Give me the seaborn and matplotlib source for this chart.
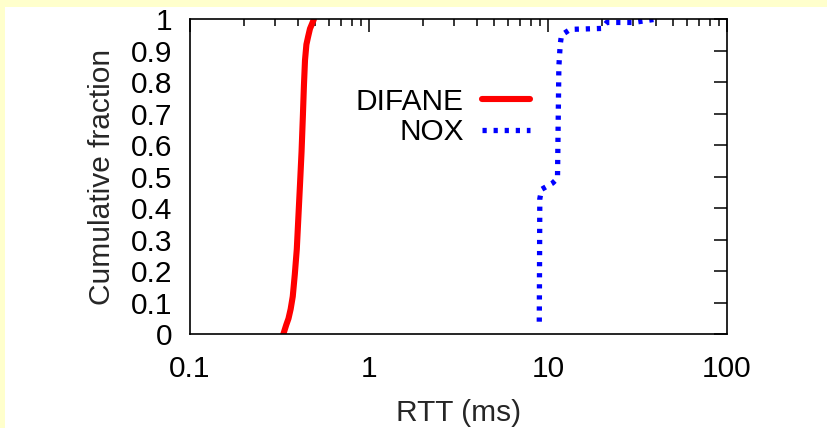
import matplotlib
matplotlib.use('Agg')
import matplotlib.pyplot as plt
import seaborn as sns
import numpy as np
from matplotlib.patches import Rectangle
from matplotlib.ticker import LogLocator, NullLocator, NullFormatter

# ---- data ----
difane_rtt = [0.332, 0.345, 0.355, 0.365, 0.375, 0.385, 0.395, 0.403, 0.412,
              0.420, 0.427, 0.433, 0.439, 0.447, 0.457, 0.468, 0.480, 0.492]
difane_cdf = [0.0, 0.03, 0.05, 0.08, 0.12, 0.19, 0.27, 0.37, 0.48,
              0.58, 0.69, 0.79, 0.87, 0.92, 0.945, 0.97, 0.985, 1.0]

nox_rtt = [8.94, 9.0, 9.2, 10.6, 11.3, 11.5, 11.7, 11.9, 13.3, 20.0, 21.3, 30.0, 39.6]
nox_cdf = [0.04, 0.43, 0.46, 0.48, 0.495, 0.85, 0.92, 0.95, 0.968, 0.971, 0.99, 0.99, 1.0]

series_labels = ['DIFANE', 'NOX']
x_ticks = [0.1, 1, 10, 100]
x_tick_labels = ['0.1', '1', '10', '100']
y_ticks = [0, 0.1, 0.2, 0.3, 0.4, 0.5, 0.6, 0.7, 0.8, 0.9, 1.0]
y_tick_labels = ['0', '0.1', '0.2', '0.3', '0.4', '0.5', '0.6', '0.7', '0.8', '0.9', '1']
x_label = 'RTT (ms)'
y_label = 'Cumulative fraction'

# ---- style ----
sns.set_theme(style='white')
plt.rcParams['font.family'] = ['Liberation Sans', 'DejaVu Sans']
plt.rcParams['text.color'] = 'black'
FS = 21.5

W, H = 827, 428
fig = plt.figure(figsize=(W / 100, H / 100), dpi=100, facecolor='#FFFFCC')
fig.add_artist(Rectangle((5 / W, 0), 1, (H - 7) / H, transform=fig.transFigure,
                         facecolor='white', edgecolor='none', zorder=-10))

ax = fig.add_axes([190 / W, (H - 334.3) / H, 537 / W, 315 / H])
ax.set_facecolor('white')

sns.lineplot(x=difane_rtt, y=difane_cdf, ax=ax, color='#FF0000', linewidth=4.4,
             sort=False, estimator=None, label=series_labels[0])
sns.lineplot(x=nox_rtt, y=nox_cdf, ax=ax, color='#0000FF', linewidth=3.8,
             linestyle=(0, (0.8, 1.3)), sort=False, estimator=None,
             label=series_labels[1])

ax.set_xscale('log')
ax.set_xlim(0.1, 100)
ax.set_ylim(0, 1)
ax.set_xticks(x_ticks, x_tick_labels)
ax.xaxis.set_minor_locator(LogLocator(base=10, subs=[2, 3, 4, 5, 6, 7, 8, 9]))
ax.xaxis.set_minor_formatter(NullFormatter())
ax.set_yticks(y_ticks, y_tick_labels)
ax.yaxis.set_minor_locator(NullLocator())

for s in ax.spines.values():
    s.set_visible(True)
    s.set_color('black')
    s.set_linewidth(1.2)

ax.tick_params(which='both', direction='in', top=True, right=True,
               colors='black', width=1.1, labelsize=FS)
ax.tick_params(which='major', length=9.5)
ax.tick_params(which='minor', length=5)
ax.tick_params(axis='y', which='major', pad=13)
ax.tick_params(axis='x', which='major', pad=15)

ax.set_xlabel(x_label, fontsize=FS)
ax.set_ylabel(y_label, fontsize=FS)
ax.xaxis.set_label_coords(0.5, -0.205)
ax.yaxis.set_label_coords(-0.138, 0.5)

ax.legend(loc='center right', bbox_to_anchor=(0.633, 0.69), frameon=False,
          markerfirst=False, handlelength=1.6, handletextpad=0.62,
          labelspacing=0.08, borderpad=0, borderaxespad=0, fontsize=FS)

fig.savefig('out.png', dpi=100, facecolor=fig.get_facecolor())
